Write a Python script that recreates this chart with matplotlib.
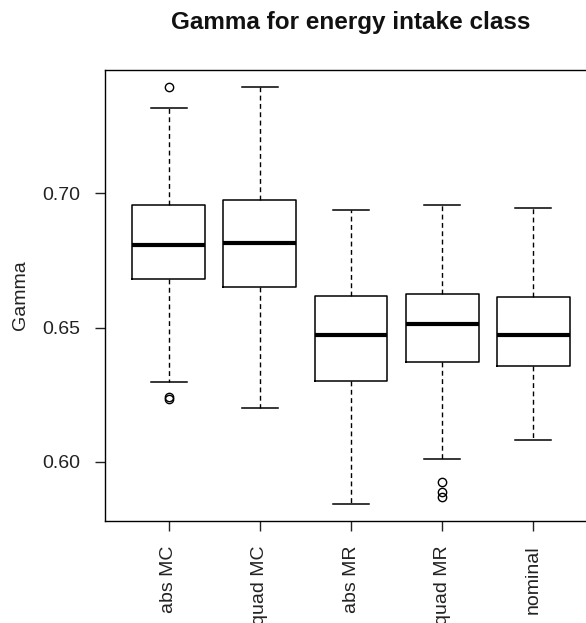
import matplotlib
matplotlib.use('Agg')
import matplotlib.pyplot as plt

plt.rcParams['font.family'] = ['Liberation Sans', 'DejaVu Sans']

labels = ['abs MC', 'quad MC', 'abs MR', 'quad MR', 'nominal']
whislo = [0.6296, 0.6199, 0.5843, 0.6010, 0.6083]
q1 = [0.6682, 0.6652, 0.6303, 0.6373, 0.6358]
med = [0.6808, 0.6817, 0.6473, 0.6514, 0.6473]
q3 = [0.6957, 0.6976, 0.6617, 0.6626, 0.6613]
whishi = [0.7317, 0.7398, 0.6939, 0.6957, 0.6947]
fliers = [[0.7398, 0.6240, 0.6236], [], [], [0.5927, 0.5887, 0.5869], []]

stats = []
for i in range(len(labels)):
    stats.append({'label': labels[i], 'whislo': whislo[i], 'q1': q1[i], 'med': med[i],
                  'q3': q3[i], 'whishi': whishi[i], 'fliers': fliers[i]})

fig = plt.figure(figsize=(5.86, 6.23), dpi=100)
ax = fig.add_axes([0.1792, 0.1642, 0.8396, 0.7230])

ax.bxp(stats, positions=range(1, 6), widths=0.8, capwidths=0.4,
       boxprops=dict(color='black', linewidth=1.1),
       medianprops=dict(color='black', linewidth=3),
       whiskerprops=dict(color='black', linewidth=1, linestyle=(0, (3.5, 2.5))),
       capprops=dict(color='black', linewidth=1.1),
       flierprops=dict(marker='o', markerfacecolor='none', markeredgecolor='black',
                       markersize=6, markeredgewidth=1))

ax.set_xlim(0.3, 5.7)
ax.set_ylim(0.5781, 0.7459)
ax.set_yticks([0.60, 0.65, 0.70])
ax.set_yticklabels(['0.60', '0.65', '0.70'])
ax.set_xticks(range(1, 6))
ax.set_xticklabels(labels, rotation=90)
ax.tick_params(length=7, width=1, pad=11, labelsize=14, colors='#222222')
for s in ax.spines.values():
    s.set_linewidth(1)

fig.text(351 / 586, 1 - 22 / 623, 'Gamma for energy intake class', ha='center', va='center',
         fontsize=17.5, fontweight='bold', color='#111111')
fig.text(21 / 586, 1 - 295 / 623, 'Gamma', rotation=90, ha='center', va='center',
         fontsize=14, color='#222222')

fig.savefig('out.png', dpi=100)
